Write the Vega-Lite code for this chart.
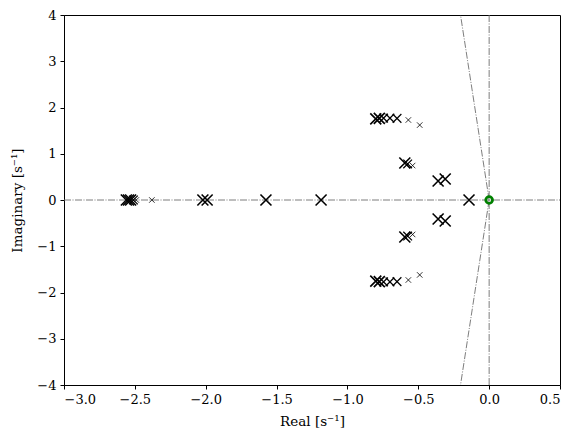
{
  "$schema": "https://vega.github.io/schema/vega-lite/v6.json",
  "width": 496,
  "height": 370,
  "autosize": {"type": "none"},
  "padding": {"left": 64, "top": 15, "right": 20, "bottom": 57},
  "background": "white",
  "config": {
    "view": {"stroke": "black", "strokeWidth": 1},
    "axis": {
      "grid": false,
      "labelFont": "DejaVu Serif",
      "labelFontSize": 13,
      "labelColor": "black",
      "titleFont": "DejaVu Serif",
      "titleFontSize": 13.5,
      "titleFontWeight": "normal",
      "titleColor": "black",
      "domainColor": "black",
      "tickColor": "black",
      "tickSize": 4,
      "labelPadding": 4
    }
  },
  "datasets": {
    "lines": [
      {"id": "h", "seq": 1, "re": -3, "im": 0},
      {"id": "h", "seq": 2, "re": 0.5, "im": 0},
      {"id": "v", "seq": 1, "re": 0, "im": -4},
      {"id": "v", "seq": 2, "re": 0, "im": 4},
      {"id": "su", "seq": 1, "re": 0, "im": 0},
      {"id": "su", "seq": 2, "re": -0.202, "im": 4},
      {"id": "sd", "seq": 1, "re": 0, "im": 0},
      {"id": "sd", "seq": 2, "re": -0.202, "im": -4}
    ],
    "poles": [
      {"re": -2.56, "im": 0, "w": 3},
      {"re": -2.545, "im": 0, "w": 3},
      {"re": -2.53, "im": 0, "w": 3},
      {"re": -2.51, "im": 0, "w": 2},
      {"re": -2.49, "im": 0, "w": 1},
      {"re": -2.38, "im": 0, "w": 1},
      {"re": -2.02, "im": 0, "w": 3},
      {"re": -1.99, "im": 0, "w": 3},
      {"re": -1.575, "im": 0, "w": 3},
      {"re": -1.186, "im": 0, "w": 3},
      {"re": -0.142, "im": 0, "w": 3},
      {"re": -0.8, "im": 1.755, "w": 3},
      {"re": -0.775, "im": 1.765, "w": 3},
      {"re": -0.745, "im": 1.77, "w": 2},
      {"re": -0.7, "im": 1.77, "w": 2},
      {"re": -0.65, "im": 1.765, "w": 2},
      {"re": -0.57, "im": 1.73, "w": 1},
      {"re": -0.49, "im": 1.62, "w": 1},
      {"re": -0.595, "im": 0.8, "w": 3},
      {"re": -0.575, "im": 0.78, "w": 2},
      {"re": -0.54, "im": 0.745, "w": 1},
      {"re": -0.36, "im": 0.41, "w": 3},
      {"re": -0.31, "im": 0.455, "w": 3},
      {"re": -0.8, "im": -1.755, "w": 3},
      {"re": -0.775, "im": -1.765, "w": 3},
      {"re": -0.745, "im": -1.77, "w": 2},
      {"re": -0.7, "im": -1.77, "w": 2},
      {"re": -0.65, "im": -1.765, "w": 2},
      {"re": -0.57, "im": -1.73, "w": 1},
      {"re": -0.49, "im": -1.62, "w": 1},
      {"re": -0.595, "im": -0.8, "w": 3},
      {"re": -0.575, "im": -0.78, "w": 2},
      {"re": -0.54, "im": -0.745, "w": 1},
      {"re": -0.36, "im": -0.41, "w": 3},
      {"re": -0.31, "im": -0.455, "w": 3}
    ],
    "zeros": [
      {"re": 0, "im": 0}
    ]
  },
  "encoding": {
    "x": {
      "field": "re",
      "type": "quantitative",
      "scale": {"domain": [-3, 0.5], "nice": false, "zero": false},
      "axis": {"values": [-3, -2.5, -2, -1.5, -1, -0.5, 0, 0.5], "format": ".1f", "title": "Real [s⁻¹]", "titlePadding": 8}
    },
    "y": {
      "field": "im",
      "type": "quantitative",
      "scale": {"domain": [-4, 4], "nice": false, "zero": false},
      "axis": {"values": [-4, -3, -2, -1, 0, 1, 2, 3, 4], "format": "d", "title": "Imaginary [s⁻¹]", "titlePadding": 12}
    }
  },
  "layer": [
    {
      "data": {"name": "lines"},
      "mark": {"type": "line", "color": "#6e6e6e", "strokeWidth": 0.9, "strokeDash": [7, 1.5, 1, 1.5], "clip": true},
      "encoding": {
        "detail": {"field": "id", "type": "nominal"},
        "order": {"field": "seq", "type": "quantitative"}
      }
    },
    {
      "data": {"name": "poles"},
      "mark": {"type": "point", "shape": "M-1,-1L1,1M-1,1L1,-1", "filled": false, "color": "black", "opacity": 1, "clip": true},
      "encoding": {
        "size": {"field": "w", "type": "quantitative", "scale": {"domain": [1, 3], "range": [30, 121]}, "legend": null},
        "strokeWidth": {"field": "w", "type": "quantitative", "scale": {"domain": [1, 3], "range": [0.8, 1.6]}, "legend": null}
      }
    },
    {
      "data": {"name": "zeros"},
      "mark": {"type": "point", "shape": "circle", "filled": false, "color": "#008000", "strokeWidth": 2.8, "size": 45, "opacity": 1}
    }
  ]
}
